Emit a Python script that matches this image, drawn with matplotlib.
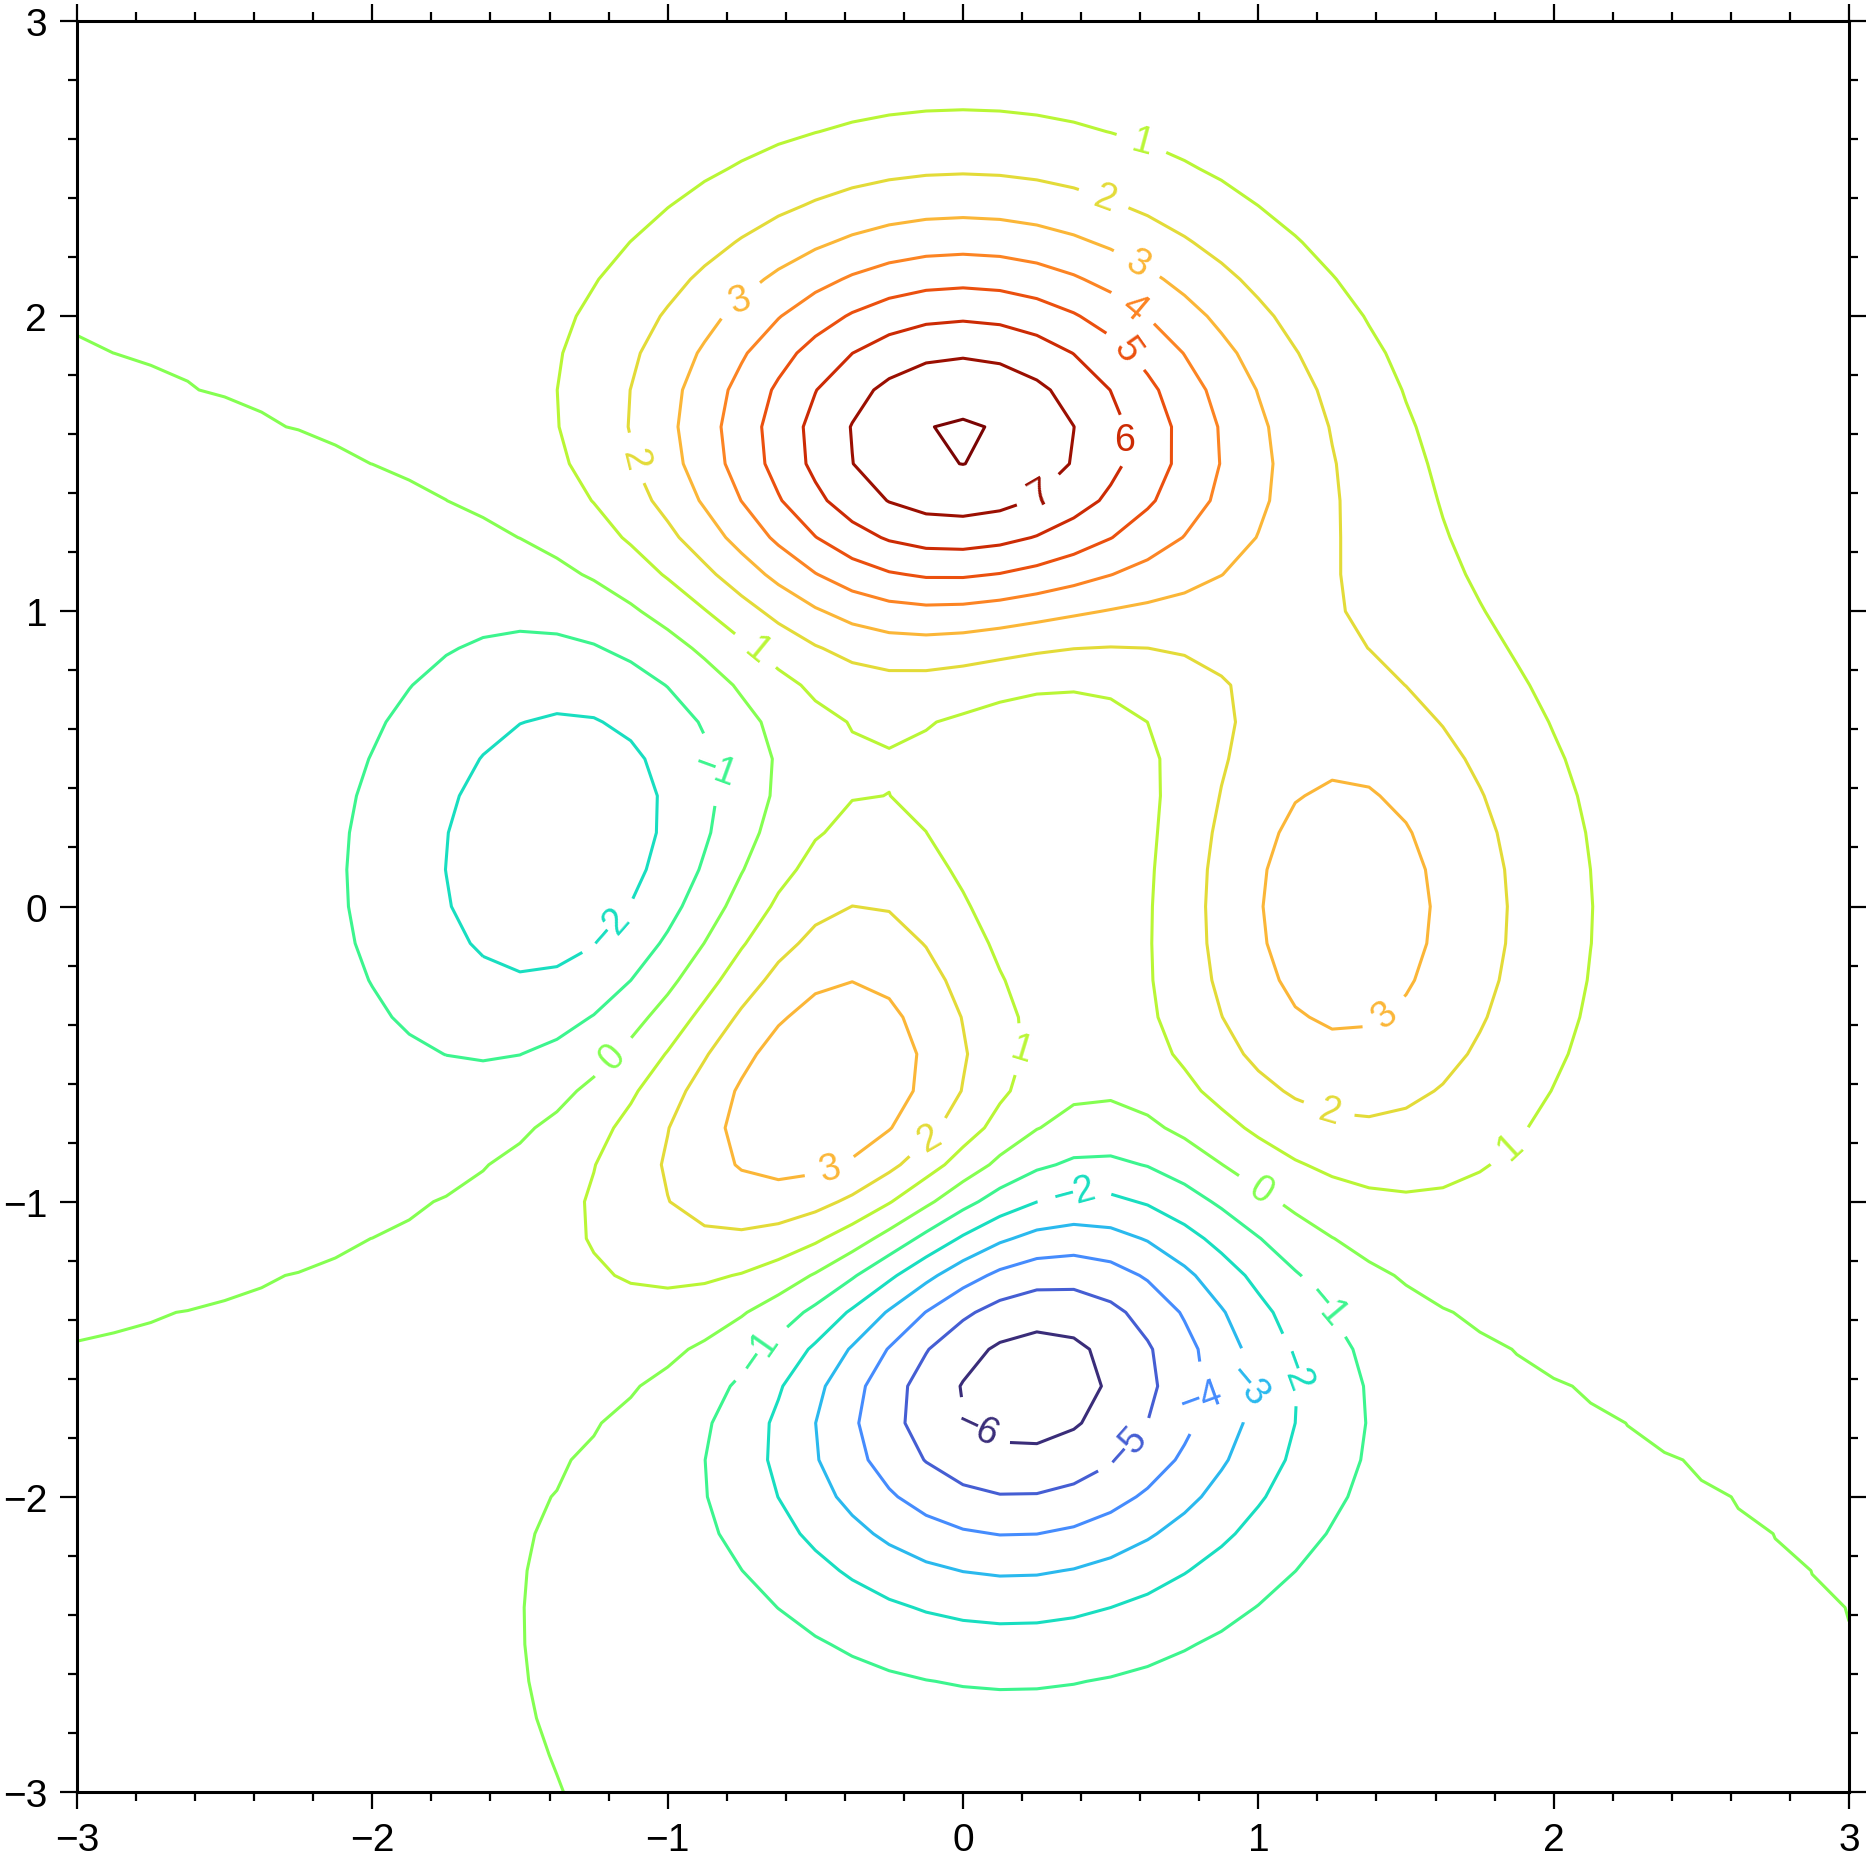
import numpy as np
import matplotlib
matplotlib.use("Agg")
import matplotlib.pyplot as plt
from matplotlib.ticker import MultipleLocator

plt.rcParams["font.family"] = ["Liberation Sans", "DejaVu Sans"]

# grid of sample points (49 x 49 on [-3, 3], step 0.125)
x_vals = np.linspace(-3, 3, 49)
y_vals = np.linspace(-3, 3, 49)
X, Y = np.meshgrid(x_vals, y_vals)

# surface sampled on that grid ("peaks" without the small third bump,
# which is what the reference's zero lines at the left edge show)
Z = (3 * (1 - X) ** 2 * np.exp(-X**2 - (Y + 1) ** 2)
     - 10 * (X / 5 - X**3 - Y**5) * np.exp(-X**2 - Y**2))

levels = np.arange(-6, 9, 1)

# where the contour labels sit (data coords) and their angle (None = along line)
label_pos = [
    (0.606, 2.59), (0.477, 2.40), (0.590, 2.18), (0.57, 2.02), (0.55, 1.88),
    (0.54, 1.58), (0.246, 1.416), (-0.754, 2.054), (-1.12, 1.516),
    (-0.70, 0.87), (-0.85, 0.466), (-1.21, -0.06), (-1.19, -0.505),
    (0.194, -0.485), (-0.113, -0.788), (-0.453, -0.88), (-0.675, -1.52),
    (0.376, -0.96), (0.044, -1.77), (0.55, -1.83), (0.82, -1.67),
    (0.973, -1.62), (1.123, -1.567), (1.216, -1.36), (1.01, -0.96),
    (1.237, -0.696), (1.427, -0.364), (1.85, -0.81),
]
label_rot = [
    -15, -20, -30, -40, -55,
    0, 30, 20, None,
    None, -20, None, None,
    -17, 30, 15, 55,
    15, -25, None, 20,
    -50, -70, -50, None,
    None, None, None,
]

# colour of each level from turbo, stretched over -6.5 .. 7.6
cmap = plt.get_cmap("turbo")
c_lo, c_hi = -6.5, 7.6
line_colors = [cmap(float(np.clip((v - c_lo) / (c_hi - c_lo), 0, 1))) for v in levels]

fig = plt.figure(figsize=(18.71, 18.56), dpi=100)
ax = fig.add_axes([0.04115, 0.03394, 0.94709, 0.95421])

cs = ax.contour(X, Y, Z, levels=levels, colors=line_colors, linewidths=2.2)
texts = ax.clabel(cs, manual=label_pos, inline=True, inline_spacing=16,
                  fontsize=27, fmt=lambda v: f"{v:.0f}".replace("-", "\u2212"))

# match labels to requested positions and fix their angles
for (px, py), rot in zip(label_pos, label_rot):
    if rot is None:
        continue
    best = min(texts, key=lambda t: (t.get_position()[0] - px) ** 2
               + (t.get_position()[1] - py) ** 2)
    best.set_rotation(rot)

ax.set_xlim(-3, 3)
ax.set_ylim(-3, 3)
ax.xaxis.set_major_locator(MultipleLocator(1))
ax.yaxis.set_major_locator(MultipleLocator(1))
ax.xaxis.set_minor_locator(MultipleLocator(0.2))
ax.yaxis.set_minor_locator(MultipleLocator(0.2))
ax.tick_params(which="both", direction="out", top=True, right=True,
               width=1.6, labelsize=28, pad=9)
ax.tick_params(which="major", length=12.5)
ax.tick_params(which="minor", length=6.5)
for s in ax.spines.values():
    s.set_linewidth(2.2)

fig.savefig("out.png", dpi=100)
